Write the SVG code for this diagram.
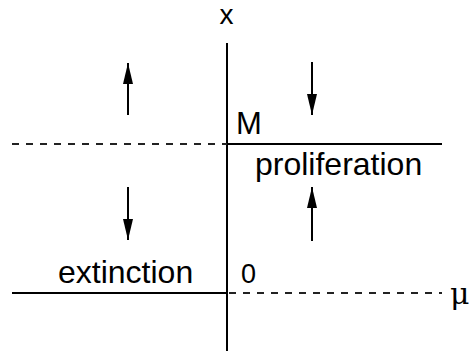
<svg xmlns="http://www.w3.org/2000/svg" width="469" height="351" viewBox="0 0 469 351">
<style>
.ln{stroke:#000;stroke-width:2;fill:none}
.ds{stroke:#222;stroke-width:2;fill:none;stroke-dasharray:7 7}
.ar{stroke:#000;stroke-width:2;fill:none;marker-end:url(#ah)}
.t{font-family:"Liberation Sans",Arial,sans-serif;fill:#000}
</style>
<defs>
<marker id="ah" markerUnits="userSpaceOnUse" markerWidth="22" markerHeight="12" refX="21" refY="5.5" orient="auto">
<path d="M0,0.5 L21,5.5 L0,10.5 Z" fill="#000"/>
</marker>
</defs>
<g id="axes">
<line class="ln" x1="227" y1="43" x2="227" y2="351"/>
<line class="ds" x1="12" y1="144" x2="227" y2="144"/>
<line class="ln" x1="227" y1="144" x2="442" y2="144"/>
<line class="ln" x1="12" y1="293" x2="227" y2="293"/>
<line class="ds" x1="229" y1="293" x2="442" y2="293"/>
</g>
<g id="connectors">
<line class="ar" x1="128" y1="115" x2="128" y2="63"/>
<line class="ar" x1="312" y1="62" x2="312" y2="115"/>
<line class="ar" x1="128" y1="187" x2="128" y2="240"/>
<line class="ar" x1="312" y1="241" x2="312" y2="187"/>
</g>
<g id="labels">
<text class="t" x="226.5" y="24" font-size="28" text-anchor="middle">x</text>
<text class="t" x="236" y="134" font-size="31">M</text>
<text class="t" x="255" y="175" font-size="32">proliferation</text>
<text class="t" x="58" y="283" font-size="32">extinction</text>
<text class="t" x="241" y="283" font-size="27">0</text>
<text x="450" y="304" font-size="30" font-family="'DejaVu Serif','Liberation Serif',serif">μ</text>
</g>
</svg>
